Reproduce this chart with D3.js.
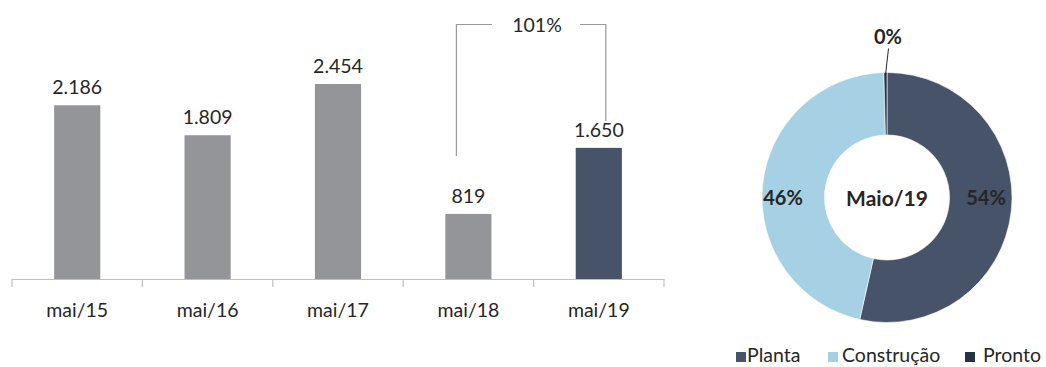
<!DOCTYPE html>
<html>
<head>
<meta charset="utf-8">
<script src="https://cdn.jsdelivr.net/npm/d3@7"></script>
<style>
  html, body { margin: 0; padding: 0; background: #fff; }
  svg { display: block; font-family: Lato, "Open Sans", sans-serif; }
</style>
</head>
<body>
<svg id="chart" width="1046" height="367"></svg>
<script>
// Bar series: sales by period
const periods = ["mai/15", "mai/16", "mai/17", "mai/18", "mai/19"];
const salesValues = [2186, 1809, 2454, 819, 1650];
const growthLabel = "101%";

// Donut series: breakdown by stage
const stages = ["Planta", "Construção", "Pronto"];
const stageShares = [53.5, 46.1, 0.4];
const stageLabels = ["54%", "46%", "0%"];
const donutTitle = "Maio/19";

const fmt = d3.formatLocale({ decimal: ",", thousands: ".", grouping: [3], currency: ["R$", ""] }).format(",d");

const svg = d3.select("#chart");
const textColor = "#262626";

// ---------- bar chart ----------
const baseY = 279;
const x = d3.scaleBand().domain(periods).range([12, 664]).paddingInner(0.646).paddingOuter(0.323);
const y = d3.scaleLinear().domain([0, 2454]).range([baseY, 84]);

const barColor = (d, i) => i === periods.length - 1 ? "#465369" : "#939598";

const bars = svg.append("g");
bars.selectAll("rect").data(salesValues).join("rect")
  .attr("x", (d, i) => x(periods[i]))
  .attr("y", d => y(d))
  .attr("width", x.bandwidth())
  .attr("height", d => baseY - y(d))
  .attr("fill", barColor);

bars.selectAll("text.val").data(salesValues).join("text")
  .attr("class", "val")
  .attr("x", (d, i) => x(periods[i]) + x.bandwidth() / 2)
  .attr("y", d => y(d) - 11)
  .attr("text-anchor", "middle")
  .attr("font-size", 19.5)
  .attr("fill", textColor)
  .text(d => fmt(d));

// category axis with ticks at band boundaries
const axisG = svg.append("g");
axisG.append("line")
  .attr("x1", x.range()[0]).attr("x2", x.range()[1])
  .attr("y1", baseY + 0.5).attr("y2", baseY + 0.5)
  .attr("stroke", "#bfbfbf").attr("stroke-width", 1.2);
const step = x.step();
const boundaries = periods.map((p, i) => x.range()[0] + i * step).concat([x.range()[1]]);
axisG.selectAll("line.tick").data(boundaries).join("line")
  .attr("class", "tick")
  .attr("x1", d => d).attr("x2", d => d)
  .attr("y1", baseY).attr("y2", baseY + 8)
  .attr("stroke", "#bfbfbf").attr("stroke-width", 1.2);
axisG.selectAll("text").data(periods).join("text")
  .attr("x", d => x(d) + x.bandwidth() / 2)
  .attr("y", 317)
  .attr("text-anchor", "middle")
  .attr("font-size", 19.5)
  .attr("fill", textColor)
  .text(d => d);

// growth bracket between mai/18 and mai/19
const i18 = 3, i19 = 4;
const bx1 = x(periods[i18]) + x.bandwidth() / 2 - 12;
const bx2 = x(periods[i19]) + x.bandwidth() / 2 + 7;
const bTop = 24.5;
const midX = 537;
const br = svg.append("g").attr("fill", "none").attr("stroke", "#9a9a9a").attr("stroke-width", 1.2);
br.append("path").attr("d", `M${bx1},${y(salesValues[i18]) - 58} V${bTop} H${midX - 45}`);
br.append("path").attr("d", `M${midX + 43},${bTop} H${bx2} V${y(salesValues[i19]) - 27}`);
svg.append("text")
  .attr("x", midX).attr("y", bTop + 7)
  .attr("text-anchor", "middle")
  .attr("font-size", 19.5)
  .attr("fill", textColor)
  .text(growthLabel);

// ---------- donut ----------
const stageColors = ["#465369", "#a6d0e4", "#253243"];
const cx = 887, cy = 197.5, rOuter = 125, rInner = 62.5;
const pie = d3.pie().sort(null).value(d => d);
const arcs = pie(stageShares);
const arc = d3.arc().innerRadius(rInner).outerRadius(rOuter);

const donut = svg.append("g").attr("transform", `translate(${cx},${cy})`);
donut.selectAll("path").data(arcs).join("path")
  .attr("d", arc)
  .attr("fill", (d, i) => stageColors[i])
  .attr("stroke", "#ffffff")
  .attr("stroke-width", 0.6);

// slice labels
const labelPos = [
  { x: 99, y: 7 },
  { x: -104, y: 7 }
];
donut.selectAll("text.pct").data(labelPos).join("text")
  .attr("class", "pct")
  .attr("x", d => d.x).attr("y", d => d.y)
  .attr("text-anchor", "middle")
  .attr("font-size", 20)
  .attr("font-weight", "bold")
  .attr("fill", textColor)
  .text((d, i) => stageLabels[i]);

// small slice: leader line and label above the ring
const small = arcs[2];
const smallAngle = (small.startAngle + small.endAngle) / 2;
const sx = Math.sin(smallAngle) * (rOuter - 3);
const sy = -Math.cos(smallAngle) * (rOuter - 3);
donut.append("line")
  .attr("x1", sx).attr("y1", sy)
  .attr("x2", 1.5).attr("y2", -rOuter - 24)
  .attr("stroke", textColor).attr("stroke-width", 1);
donut.append("text")
  .attr("x", 1).attr("y", -rOuter - 29)
  .attr("text-anchor", "middle")
  .attr("font-size", 20)
  .attr("font-weight", "bold")
  .attr("fill", textColor)
  .text(stageLabels[2]);

donut.append("text")
  .attr("x", 0).attr("y", 8)
  .attr("text-anchor", "middle")
  .attr("font-size", 21)
  .attr("font-weight", "bold")
  .attr("fill", textColor)
  .text(donutTitle);

// ---------- legend ----------
const legendX = [736, 828, 965];
const legendTextX = [747, 842, 983];
const legend = svg.append("g");
const items = legend.selectAll("g").data(stages).join("g")
  .attr("transform", (d, i) => `translate(${legendX[i]},352)`);
items.append("rect").attr("width", 10).attr("height", 10)
  .attr("fill", (d, i) => stageColors[i]);
items.append("text")
  .attr("x", (d, i) => legendTextX[i] - legendX[i])
  .attr("y", 10)
  .attr("font-size", 19.5)
  .attr("fill", textColor)
  .text(d => d);
</script>
</body>
</html>
